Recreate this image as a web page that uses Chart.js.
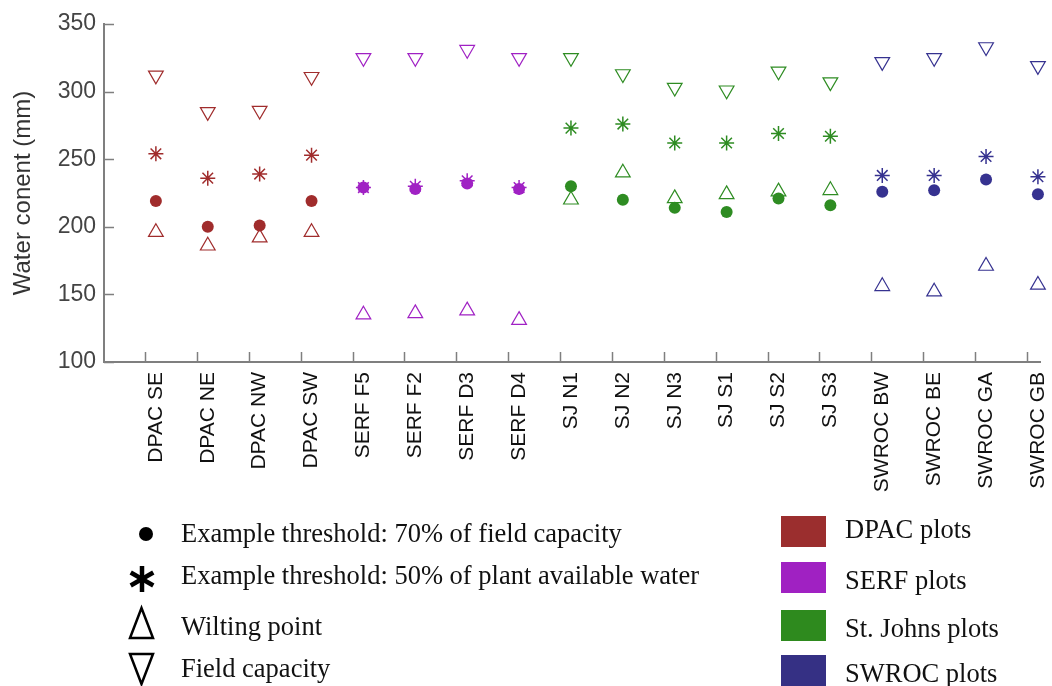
<!DOCTYPE html>
<html>
<head>
<meta charset="utf-8">
<title>Water content thresholds</title>
<script src="https://cdn.jsdelivr.net/npm/chart.js@4.4.1/dist/chart.umd.min.js"></script>
<style>
    body { margin: 0; background: #fff; }
    #wrap { position: relative; width: 1052px; height: 686px; }
    #legend { position: absolute; left: 0; top: 0; pointer-events: none; }
    #legend text { font-family: "Liberation Serif", "Times New Roman", serif; font-size: 26.5px; fill: #111; }
</style>
</head>
<body>
<div id="wrap">
    <canvas id="chart" width="1052" height="686"></canvas>
    <svg id="legend" width="1052" height="686">
        <circle cx="146" cy="534" r="7" fill="#000"></circle>
        <g stroke="#000" stroke-width="4.5">
            <line x1="142" y1="566" x2="142" y2="592"></line>
            <line x1="130.7" y1="572.5" x2="153.3" y2="585.5"></line>
            <line x1="130.7" y1="585.5" x2="153.3" y2="572.5"></line>
        </g>
        <polygon points="130,638 153,638 141.5,608" fill="none" stroke="#000" stroke-width="2.5"></polygon>
        <polygon points="130,654 153,654 141.5,684" fill="none" stroke="#000" stroke-width="2.5"></polygon>
        <text x="181" y="542">Example threshold: 70% of field capacity</text>
        <text x="181" y="584">Example threshold: 50% of plant available water</text>
        <text x="181" y="635">Wilting point</text>
        <text x="181" y="677">Field capacity</text>

        <rect x="781" y="516" width="45" height="31" fill="#9b2e2e"></rect>
        <rect x="781" y="562" width="45" height="31" fill="#a021c2"></rect>
        <rect x="781" y="610" width="45" height="31" fill="#2e8a1e"></rect>
        <rect x="781" y="655" width="45" height="31" fill="#353084"></rect>
        <text x="845" y="538">DPAC plots</text>
        <text x="845" y="589">SERF plots</text>
        <text x="845" y="637">St. Johns plots</text>
        <text x="845" y="682">SWROC plots</text>
    </svg>
</div>
<script>
    // plots along the x axis and the site each one belongs to
    const plots = [
        'DPAC SE', 'DPAC NE', 'DPAC NW', 'DPAC SW',
        'SERF F5', 'SERF F2', 'SERF D3', 'SERF D4',
        'SJ N1', 'SJ N2', 'SJ N3', 'SJ S1', 'SJ S2', 'SJ S3',
        'SWROC BW', 'SWROC BE', 'SWROC GA', 'SWROC GB'
    ];
    const sites = [
        'DPAC', 'DPAC', 'DPAC', 'DPAC',
        'SERF', 'SERF', 'SERF', 'SERF',
        'SJ', 'SJ', 'SJ', 'SJ', 'SJ', 'SJ',
        'SWROC', 'SWROC', 'SWROC', 'SWROC'
    ];

    // water content (mm)
    const fieldCapacity = [312, 285, 286, 311, 325, 325, 331, 325, 325, 313, 303, 301, 315, 307, 322, 325, 333, 319];
    const wiltingPoint = [196, 186, 192, 196, 135, 136, 138, 131, 220, 240, 221, 224, 226, 227, 156, 152, 171, 157];
    const threshold70FC = [219, 200, 201, 219, 229, 228, 232, 228, 230, 220, 214, 211, 221, 216, 226, 227, 235, 224];
    const threshold50PAW = [254, 236, 239, 253, 229, 230, 234, 229, 273, 276, 262, 262, 269, 267, 238, 238, 252, 237];

    const yTicks = [100, 150, 200, 250, 300, 350];

    const siteColors = {
        DPAC: '#a02c2c',
        SERF: '#a021c4',
        SJ: '#2e8c22',
        SWROC: '#363290'
    };
    const axisColor = '#7f7f7f';
    const pointColors = sites.map(function (s) { return siteColors[s]; });

    function toPoints(values) {
        return values.map(function (v, i) { return { x: i, y: v }; });
    }

    // small inward tick marks like the original figure
    const innerTicks = {
        id: 'innerTicks',
        beforeDatasetsDraw(chart) {
            const { ctx, chartArea, scales } = chart;
            ctx.save();
            ctx.strokeStyle = axisColor;
            ctx.lineWidth = 1.5;
            ctx.beginPath();
            yTicks.forEach(function (t) {
                const py = Math.round(scales.y.getPixelForValue(t)) + 0.5;
                ctx.moveTo(chartArea.left, py);
                ctx.lineTo(chartArea.left + 10, py);
            });
            plots.forEach(function (p, i) {
                const px = Math.round(scales.x.getPixelForValue(i - 0.21)) + 0.5;
                ctx.moveTo(px, chartArea.bottom);
                ctx.lineTo(px, chartArea.bottom - 10);
            });
            ctx.stroke();
            ctx.restore();
        }
    };

    const ctx = document.getElementById('chart').getContext('2d');
    new Chart(ctx, {
        type: 'scatter',
        data: {
            datasets: [
                {
                    label: 'Example threshold: 70% of field capacity',
                    data: toPoints(threshold70FC),
                    pointStyle: 'circle',
                    pointRadius: 6,
                    pointBorderWidth: 0,
                    pointBackgroundColor: pointColors,
                    pointBorderColor: pointColors,
                    clip: false,
                    order: 0
                },
                {
                    label: 'Example threshold: 50% of plant available water',
                    data: toPoints(threshold50PAW),
                    pointStyle: 'star',
                    pointRadius: 7.5,
                    pointBorderWidth: 1.5,
                    pointBackgroundColor: pointColors,
                    pointBorderColor: pointColors,
                    clip: false,
                    order: 1
                },
                {
                    label: 'Wilting point',
                    data: toPoints(wiltingPoint),
                    pointStyle: 'triangle',
                    pointRadius: 8.5,
                    pointBorderWidth: 1.2,
                    pointBackgroundColor: 'rgba(0,0,0,0)',
                    pointBorderColor: pointColors,
                    clip: false,
                    order: 2
                },
                {
                    label: 'Field capacity',
                    data: toPoints(fieldCapacity),
                    pointStyle: 'triangle',
                    rotation: 180,
                    pointRadius: 8.5,
                    pointBorderWidth: 1.2,
                    pointBackgroundColor: 'rgba(0,0,0,0)',
                    pointBorderColor: pointColors,
                    clip: false,
                    order: 3
                }
            ]
        },
        options: {
            responsive: false,
            animation: false,
            events: [],
            layout: {
                padding: { top: 24, right: 12, left: 0, bottom: 0 }
            },
            plugins: {
                legend: { display: false },
                tooltip: { enabled: false }
            },
            scales: {
                x: {
                    type: 'linear',
                    min: -1,
                    max: 17.04,
                    afterBuildTicks: function (axis) {
                        axis.ticks = plots.map(function (p, i) { return { value: i }; });
                    },
                    afterFit: function (axis) {
                        axis.height = 324;
                        axis.paddingLeft = 0;
                        axis.paddingRight = 0;
                    },
                    grid: { display: false },
                    border: { display: true, color: axisColor, width: 2 },
                    ticks: {
                        autoSkip: false,
                        minRotation: 90,
                        maxRotation: 90,
                        padding: 2,
                        color: '#111',
                        font: { family: '"Liberation Sans", Arial, sans-serif', size: 21 },
                        callback: function (value) { return plots[value]; }
                    }
                },
                y: {
                    min: 100,
                    max: 350,
                    afterBuildTicks: function (axis) {
                        axis.ticks = yTicks.map(function (v) { return { value: v }; });
                    },
                    afterFit: function (axis) {
                        axis.width = 104;
                    },
                    grid: { display: false },
                    border: { display: true, color: axisColor, width: 2 },
                    ticks: {
                        padding: 0,
                        color: '#444',
                        font: { family: '"Liberation Sans", Arial, sans-serif', size: 23 }
                    },
                    title: {
                        display: true,
                        text: 'Water conent (mm)',
                        color: '#333',
                        padding: { top: 9, bottom: 0 },
                        font: { family: '"Liberation Sans", Arial, sans-serif', size: 24, weight: 'normal' }
                    }
                }
            }
        },
        plugins: [innerTicks]
    });
</script>
</body>
</html>
